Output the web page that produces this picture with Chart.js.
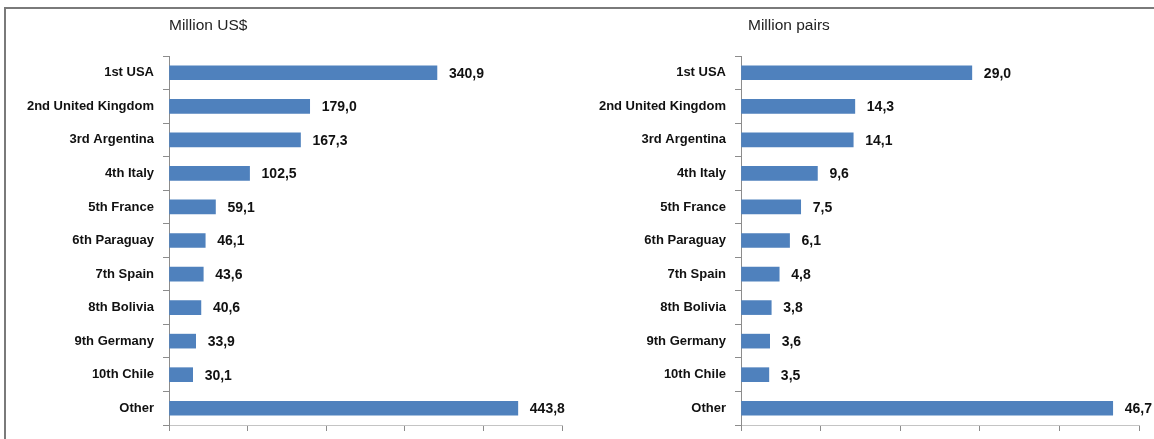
<!DOCTYPE html>
<html>
<head>
<meta charset="utf-8">
<script src="https://cdn.jsdelivr.net/npm/chart.js@4.4.0/dist/chart.umd.min.js"></script>
<style>
  html, body { margin:0; padding:0; background:#fff; width:1154px; height:439px; overflow:hidden; }
  .wrap { position:absolute; top:0; width:577px; height:439px; }
  #frame { position:absolute; left:4px; top:7px; right:-10px; bottom:-10px; border-left:2px solid #7a7a7a; border-top:2px solid #7a7a7a; pointer-events:none; }
  .title { position:absolute; top:16px; font-family:"Liberation Sans", Arial, sans-serif; font-size:15.5px; color:#222; white-space:nowrap; line-height:18px; }
</style>
</head>
<body>
<div class="wrap" style="left:0"><canvas id="c1" width="577" height="439"></canvas></div>
<div class="wrap" style="left:577px"><canvas id="c2" width="577" height="439"></canvas></div>
<div id="frame"></div>
<div class="title" style="left:169px">Million US$</div>
<div class="title" style="left:748px">Million pairs</div>
<script>
const categories = ["1st USA","2nd United Kingdom","3rd Argentina","4th Italy","5th France","6th Paraguay","7th Spain","8th Bolivia","9th Germany","10th Chile","Other"];
const valueUSD = [340.9, 179.0, 167.3, 102.5, 59.1, 46.1, 43.6, 40.6, 33.9, 30.1, 443.8];
const valuePairs = [29.0, 14.3, 14.1, 9.6, 7.5, 6.1, 4.8, 3.8, 3.6, 3.5, 46.7];
const usdAxis = { max: 500, step: 100 };
const pairsAxis = { max: 50, step: 10 };

const FONT = '"Liberation Sans", Arial, sans-serif';

const labelPlugin = {
  id: 'valueLabels',
  afterDatasetsDraw(chart) {
    const ctx = chart.ctx;
    ctx.save();
    ctx.font = 'bold 14px ' + FONT;
    ctx.fillStyle = '#111';
    ctx.textBaseline = 'middle';
    ctx.textAlign = 'left';
    const meta = chart.getDatasetMeta(0);
    const data = chart.data.datasets[0].data;
    meta.data.forEach((bar, i) => {
      ctx.fillText(data[i].toFixed(1).replace('.', ','), bar.x + 12, bar.y + 1);
    });
    ctx.restore();
  }
};

function makeChart(id, values, axis, yWidth) {
  return new Chart(document.getElementById(id), {
    type: 'bar',
    data: {
      labels: categories,
      datasets: [{
        data: values,
        backgroundColor: '#4F81BD',
        borderWidth: 0,
        barThickness: 14
      }]
    },
    options: {
      indexAxis: 'y',
      responsive: false,
      animation: false,
      devicePixelRatio: 1,
      layout: { padding: { top: 56, right: 15, bottom: 8, left: 0 } },
      plugins: { legend: { display: false }, tooltip: { enabled: false }, title: { display: false } },
      scales: {
        x: {
          min: 0, max: axis.max,
          afterFit(scale) { scale.height = 6; },
          ticks: { display: false, stepSize: axis.step },
          grid: { drawOnChartArea: false, drawTicks: true, tickLength: 6, tickColor: '#8c8c8c' },
          border: { display: true, color: '#c4c4c4', width: 1 }
        },
        y: {
          offset: true,
          afterFit(scale) { scale.width = yWidth; scale.paddingTop = 0; scale.paddingBottom = 0; },
          ticks: { color: '#111', font: { family: FONT, size: 13, weight: 'bold' }, padding: 9 },
          grid: { drawOnChartArea: false, offset: true, tickLength: 6, tickColor: '#8c8c8c' },
          border: { display: true, color: '#8c8c8c', width: 1 }
        }
      }
    },
    plugins: [labelPlugin]
  });
}

makeChart('c1', valueUSD, usdAxis, 169);
makeChart('c2', valuePairs, pairsAxis, 164);
</script>
</body>
</html>
